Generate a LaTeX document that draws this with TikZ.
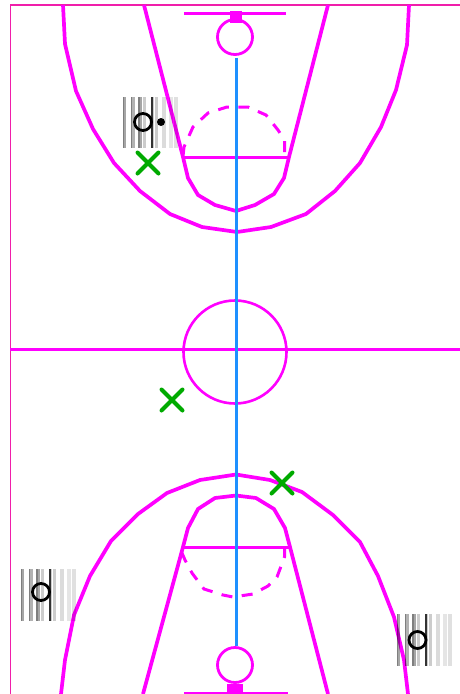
\documentclass[tikz,border=0pt]{standalone}
\usepackage{xcolor}
\usetikzlibrary{shapes.misc, positioning}
\definecolor{courtpink}{RGB}{255,0,255}
\definecolor{edgepink}{RGB}{240,30,170}
\definecolor{axisblue}{RGB}{30,144,255}
\definecolor{markgreen}{RGB}{0,170,0}

\begin{document}
\begin{tikzpicture}[
    x=1pt, y=-1pt,
    courtline/.style={draw=courtpink, line width=3.7pt, line join=round},
    thinline/.style={draw=courtpink, line width=3pt},
    dashline/.style={draw=courtpink, line width=3pt, dash pattern=on 11pt off 9.5pt},
    edgeline/.style={draw=edgepink, line width=1.4pt},
    axisline/.style={draw=axisblue, line width=3.6pt},
    hoop/.style={circle, draw=courtpink, line width=2.8pt, minimum size=35pt, inner sep=0pt},
    midcircle/.style={circle, draw=courtpink, line width=2.6pt, minimum size=103pt, inner sep=0pt},
    player/.style={circle, draw=black, line width=2.8pt, minimum size=17pt, inner sep=0pt},
    ball/.style={circle, fill=black, minimum size=8pt, inner sep=0pt},
    defender/.style={cross out, draw=markgreen, line width=4pt, line cap=round, minimum size=21pt, inner sep=0pt, outer sep=0pt},
    pics/stripes/.style={code={
        \foreach \sx/\sw/\so in {0/1/.5, 1/1.7/.35, 8/1/.5, 9/2.5/.3, 15/1.5/.5, 16.5/2/.35, 20/2.5/.2, 28.3/2/.8, 30.3/1/.2, 32/2.5/.2, 39/3.5/.14, 46/3.5/.1, 51/3.5/.12}
            \fill[black, opacity=\so] (\sx,0) rectangle ++(\sw,#1);
    }}
]
\useasboundingbox (0,0) rectangle (460,694);

% Court edges
\draw [edgeline] (460,5) -- (10.5,5) -- (10.5,694);
\draw [thinline] (10,349.5) -- (460,349.5);

% Upper half
\draw [courtline] (63,5) -- (65,44) -- (76,91) -- (93,129) -- (114,163) -- (140,191) -- (170,214) -- (202,227) -- (237,232)
    -- (271,227) -- (306,214) -- (335,191) -- (360,163) -- (381,127) -- (396,90) -- (407,45) -- (409,5);
\draw [courtline] (144,5) -- (183,157) -- (188,178) -- (198,195) -- (215,205) -- (236,211)
    -- (255,205) -- (274,194) -- (284,178) -- (289,157) -- (328,5);
\draw [thinline] (183,157) -- (290,157);
\draw [dashline] (284.5,152) -- (284.5,140) -- (278,130) -- (266,115) -- (248,107) -- (227,107) -- (208,113) -- (193,127) -- (184,147) -- (183,156);
\draw [thinline] (184,13) -- (286,13);
\fill [courtpink] (230,11) rectangle (242,23);
\node [hoop] (hoopT) at (235,37) {};

% Lower half
\draw [courtline] (61,694) -- (65,660) -- (74,615) -- (90,576) -- (111,541) -- (138,514) -- (167,493) -- (200,480) -- (236,474.5)
    -- (270,480) -- (302,492) -- (333,515) -- (360,542) -- (378,576) -- (394,617) -- (404,660) -- (408,694);
\draw [courtline] (143,694) -- (183,547) -- (188,528) -- (198,509) -- (215,498) -- (236,495.5)
    -- (256,498) -- (274,509) -- (285,528) -- (290,547) -- (328,694);
\draw [thinline] (183,547) -- (290,547);
\draw [dashline] (284.5,547) -- (284.5,557) -- (277,577) -- (268,586) -- (253,594) -- (233,597) -- (223,595) -- (204,589) -- (192,573) -- (185,560) -- (182,553);
\draw [thinline] (184,693) -- (288,693);
\fill [courtpink] (227,684) rectangle (243,694);
\node [hoop] (hoopB) at (235,665) {};

% Centre
\node [midcircle] (centre) at (235,352) {};
\draw [axisline] (hoopT.south) ++(1.5,2) coordinate (axisT) -- (hoopB.north -| axisT);

% Stripes
\pic at (123,97) {stripes=51};
\pic at (21,569) {stripes=52};
\pic at (397,614) {stripes=52};

% Players
\node [player] (p1) at (143,122) {};
\node [ball, right=18pt of p1.center, anchor=center] (b1) {};
\node [player] (p2) at (41,592) {};
\node [player] (p3) at (417.5,640) {};

% Defenders
\node [defender] (d1) at (148,163) {};
\node [defender] (d2) at (172,400) {};
\node [defender] (d3) at (282,483) {};

\end{tikzpicture}
\end{document}
